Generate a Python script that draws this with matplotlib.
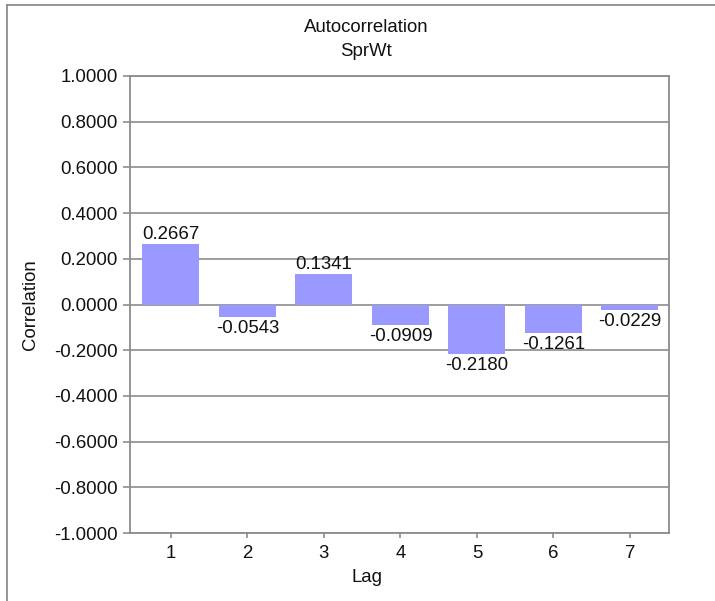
import matplotlib
matplotlib.use("Agg")
import matplotlib.pyplot as plt
from matplotlib.lines import Line2D

lags = [1, 2, 3, 4, 5, 6, 7]
correlations = [0.2667, -0.0543, 0.1341, -0.0909, -0.2180, -0.1261, -0.0229]
yticks = [1.0, 0.8, 0.6, 0.4, 0.2, 0.0, -0.2, -0.4, -0.6, -0.8, -1.0]

plt.rcParams['font.family'] = ['Liberation Sans', 'DejaVu Sans']
FS = 13.4
GRAY = '#8c8c8c'
TXT = '#111111'

W, H = 715, 601
fig = plt.figure(figsize=(W / 100, H / 100), dpi=100)
fig.patch.set_facecolor('white')

ax = fig.add_axes([130 / W, 1 - 533 / H, (669 - 130) / W, (533 - 76) / H])
ax.bar(lags, correlations, width=0.745, color='#9999ff', zorder=3)

ax.set_xlim(0.465, 7.51)
ax.set_ylim(-1.0, 1.0)
ax.set_yticks(yticks)
ax.set_yticklabels([f"{v:.4f}" for v in yticks], fontsize=FS, color=TXT)
ax.set_xticks(lags)
ax.set_xticklabels([str(l) for l in lags], fontsize=FS, color=TXT)
ax.yaxis.grid(True, color=GRAY, linewidth=1.2, zorder=0)
ax.set_axisbelow(True)
for s in ax.spines.values():
    s.set_color(GRAY)
    s.set_linewidth(1.3)
ax.tick_params(axis='y', length=5, width=1.2, color=GRAY, pad=3.6)
ax.tick_params(axis='x', length=3.6, width=1.2, color=GRAY, pad=5)

for x, v in zip(lags, correlations):
    if v >= 0:
        ax.annotate(f"{v:.4f}", (x, v), xytext=(0, 0.5), textcoords='offset points',
                    ha='center', va='bottom', fontsize=FS, color=TXT)
    else:
        ax.annotate(f"{v:.4f}", (x, v), xytext=(0, -2), textcoords='offset points',
                    ha='center', va='top', fontsize=FS, color=TXT)

fig.text(366 / W, 1 - 28 / H, "Autocorrelation", ha='center', va='center', fontsize=FS, color=TXT)
fig.text(366 / W, 1 - 52 / H, "SprWt", ha='center', va='center', fontsize=FS, color=TXT)
fig.text(367 / W, 1 - 577 / H, "Lag", ha='center', va='center', fontsize=FS, color=TXT)
fig.text(31 / W, 1 - 305 / H, "Correlation", ha='center', va='center', rotation=90,
         fontsize=FS, color=TXT)

# figure border (top and left)
fig.add_artist(Line2D([7 / W, 1.0], [1 - 5 / H, 1 - 5 / H], color=GRAY, linewidth=1.3))
fig.add_artist(Line2D([7 / W, 7 / W], [0.0, 1 - 5 / H], color=GRAY, linewidth=1.3))

fig.savefig("out.png", dpi=100, facecolor='white')
